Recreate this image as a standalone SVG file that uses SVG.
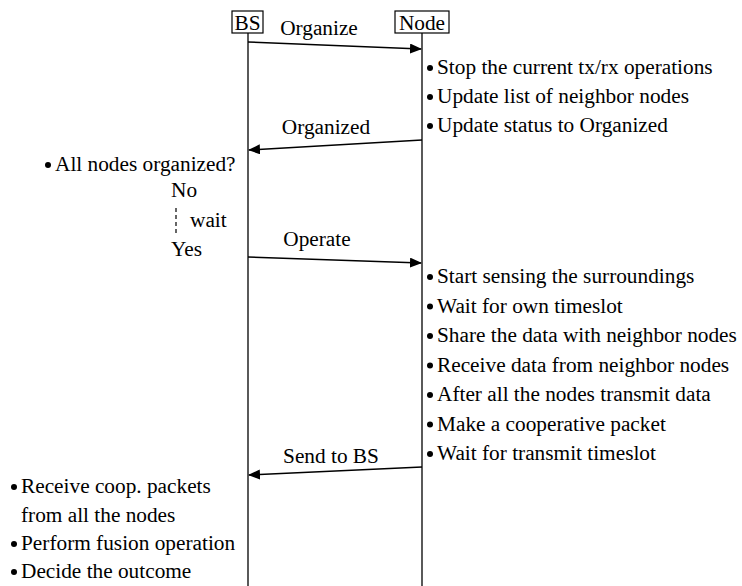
<svg xmlns="http://www.w3.org/2000/svg" width="742" height="586" viewBox="0 0 742 586">
<defs>
<marker id="ah" markerWidth="12" markerHeight="10" refX="11" refY="5" orient="auto" markerUnits="userSpaceOnUse">
<path d="M0,0 L12,5 L0,10 Z" fill="#000"/>
</marker>
<style>
.ll{stroke:#000;stroke-width:1.3;fill:none}
.box{fill:#fff;stroke:#000;stroke-width:1.2}
.msg{stroke:#000;stroke-width:1.5;fill:none;marker-end:url(#ah)}
.mid{text-anchor:middle}
</style>
</defs>
<rect width="742" height="586" fill="#fff"/>
<g id="connectors">
<line class="ll" x1="248" y1="33" x2="248" y2="586"/>
<line class="ll" x1="422" y1="33" x2="422" y2="586"/>
<line class="msg" x1="248" y1="42" x2="421" y2="49"/>
<line class="msg" x1="422" y1="140" x2="249" y2="150"/>
<line class="msg" x1="248" y1="257" x2="421" y2="263"/>
<line class="msg" x1="422" y1="467" x2="249" y2="475"/>
<line x1="176" y1="208" x2="176" y2="234" stroke="#000" stroke-width="1.2" stroke-dasharray="4,3"/>
</g>
<g font-family="Liberation Serif, Times New Roman, Times, serif" font-size="21.3" fill="#000">
<g id="bs">
<rect class="box" x="232" y="11" width="31" height="22"/>
<text class="mid" x="247.5" y="29.5">BS</text>
</g>
<g id="node">
<rect class="box" x="395" y="11" width="54" height="22"/>
<text class="mid" x="422" y="29.5">Node</text>
</g>
<g id="labels">
<text class="mid" x="319" y="35">Organize</text>
<text class="mid" x="326" y="134">Organized</text>
<text class="mid" x="317" y="246">Operate</text>
<text class="mid" x="331" y="463">Send to BS</text>
</g>
<g id="node-actions">
<circle cx="430" cy="68" r="3"/><text x="437" y="74">Stop the current tx/rx operations</text>
<circle cx="430" cy="97" r="3"/><text x="437" y="103">Update list of neighbor nodes</text>
<circle cx="430" cy="126" r="3"/><text x="437" y="132">Update status to Organized</text>
<circle cx="430" cy="277" r="3"/><text x="437" y="283">Start sensing the surroundings</text>
<circle cx="430" cy="306.5" r="3"/><text x="437" y="312.5">Wait for own timeslot</text>
<circle cx="430" cy="336" r="3"/><text x="437" y="342">Share the data with neighbor nodes</text>
<circle cx="430" cy="365.5" r="3"/><text x="437" y="371.5">Receive data from neighbor nodes</text>
<circle cx="430" cy="395" r="3"/><text x="437" y="401">After all the nodes transmit data</text>
<circle cx="430" cy="424.5" r="3"/><text x="437" y="430.5">Make a cooperative packet</text>
<circle cx="430" cy="454" r="3"/><text x="437" y="460">Wait for transmit timeslot</text>
</g>
<g id="bs-actions">
<circle cx="48" cy="165" r="3"/><text x="55" y="171">All nodes organized?</text>
<text x="171" y="197">No</text>
<text x="190" y="227">wait</text>
<text x="171" y="256">Yes</text>
<circle cx="14" cy="487" r="3"/><text x="21" y="493">Receive coop. packets</text>
<text x="21" y="522">from all the nodes</text>
<circle cx="14" cy="544" r="3"/><text x="21" y="550">Perform fusion operation</text>
<circle cx="14" cy="572" r="3"/><text x="21" y="578">Decide the outcome</text>
</g>
</g>
</svg>
